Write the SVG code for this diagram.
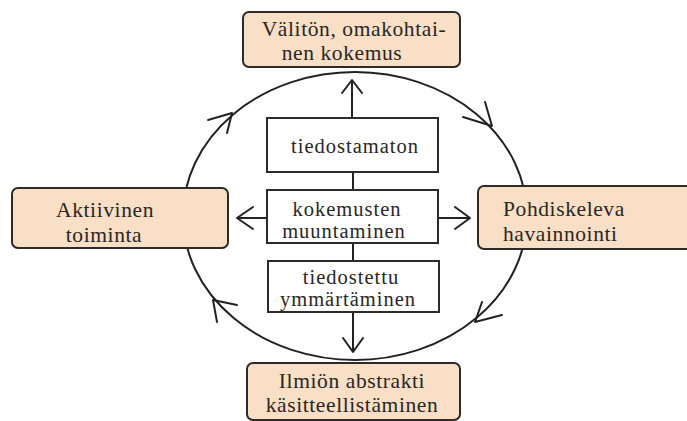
<svg xmlns="http://www.w3.org/2000/svg" width="687" height="421" viewBox="0 0 687 421">
<style>
.stage{fill:#f8dfc5;stroke:#2e2a28;stroke-width:2}
.box{fill:#fff;stroke:#2e2a28;stroke-width:2}
.ln{fill:none;stroke:#222;stroke-width:2;stroke-linecap:round;stroke-linejoin:round}
text{font-family:"Liberation Serif","DejaVu Serif",serif;font-size:21.5px;letter-spacing:0.6px;fill:#2a2624}
.s{font-size:20.5px;letter-spacing:1px}
.c{text-anchor:middle}
</style>
<rect width="687" height="421" fill="#fff"/>
<g id="connectors">
<ellipse class="ln" cx="355" cy="216" rx="172" ry="144"/>
<polyline class="ln" points="208,120 232,113 227,133"/>
<polyline class="ln" points="463,117 492,126 485,102"/>
<polyline class="ln" points="502,315 475,322 482,302"/>
<polyline class="ln" points="237,305 213,300 217,322"/>
<line class="ln" x1="352" y1="81" x2="352" y2="118"/>
<polyline class="ln" points="342,93 352,80 362,93"/>
<line class="ln" x1="353" y1="172" x2="353" y2="190"/>
<line class="ln" x1="353" y1="243" x2="353" y2="261"/>
<line class="ln" x1="353" y1="312" x2="353" y2="351"/>
<polyline class="ln" points="343,338 353,352 363,338"/>
<line class="ln" x1="238" y1="218" x2="267" y2="218"/>
<polyline class="ln" points="253,207 237,218 253,229"/>
<line class="ln" x1="438" y1="218" x2="469" y2="218"/>
<polyline class="ln" points="455,207 470,218 455,229"/>
</g>
<g id="n-kokemus">
<rect class="stage" x="243" y="12" width="217" height="55" rx="6"/>
<text class="c" x="354" y="36">Välitön, omakohtai-</text>
<text class="c" x="342" y="60">nen kokemus</text>
</g>
<g id="n-aktiivinen">
<rect class="stage" x="12" y="188" width="216" height="60" rx="6"/>
<text class="c" x="105" y="217">Aktiivinen</text>
<text class="c" x="104" y="242">toiminta</text>
</g>
<g id="n-pohdiskeleva">
<rect class="stage" x="478" y="186" width="230" height="63" rx="6"/>
<text x="503" y="216">Pohdiskeleva</text>
<text x="503" y="241">havainnointi</text>
</g>
<g id="n-ilmion">
<rect class="stage" x="247" y="363" width="213" height="57" rx="6"/>
<text class="c" x="352" y="388">Ilmiön abstrakti</text>
<text class="c" x="352" y="412">käsitteellistäminen</text>
</g>
<g id="n-tiedostamaton">
<rect class="box" x="267" y="118" width="171" height="54"/>
<text class="c s" x="355" y="153">tiedostamaton</text>
</g>
<g id="n-muuntaminen">
<rect class="box" x="267" y="190" width="171" height="53"/>
<text class="c s" x="347" y="216">kokemusten</text>
<text class="c s" x="344" y="238">muuntaminen</text>
</g>
<g id="n-tiedostettu">
<rect class="box" x="268" y="261" width="171" height="51"/>
<text class="c s" x="351" y="284">tiedostettu</text>
<text class="c s" x="348" y="306">ymmärtäminen</text>
</g>
</svg>
